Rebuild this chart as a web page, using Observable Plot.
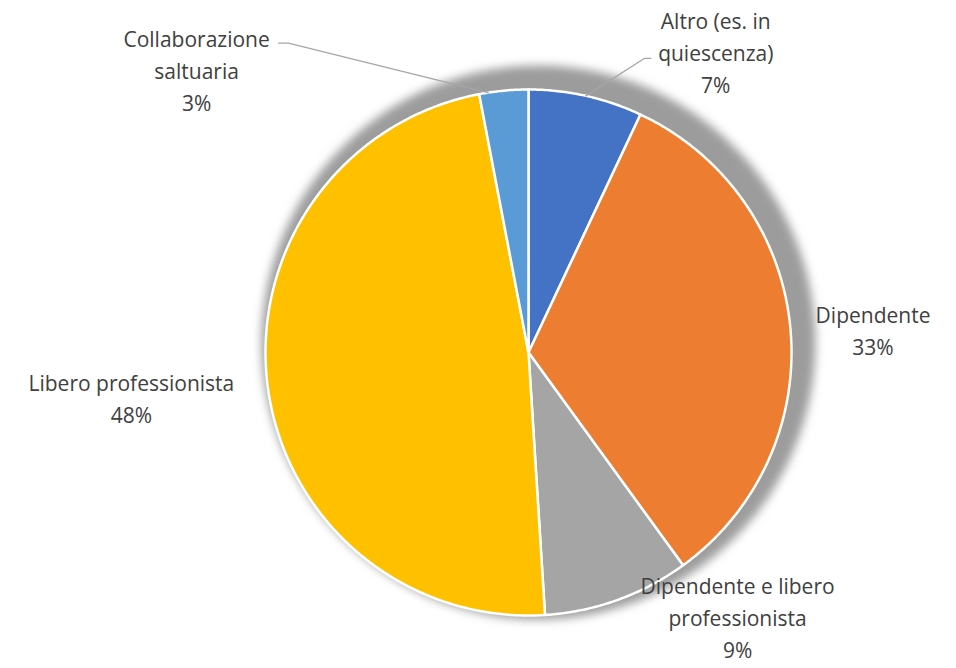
<!DOCTYPE html>
<html><head><meta charset="utf-8">
<script src="https://cdn.jsdelivr.net/npm/d3@7"></script>
<script src="https://cdn.jsdelivr.net/npm/@observablehq/plot@0.6"></script>
<style>body{margin:0;background:#fff;} #chart svg{display:block;}</style>
</head><body><div id="chart"></div>
<script>
// ---- data ----
const categories = ["Altro (es. in\nquiescenza)", "Dipendente", "Dipendente e libero\nprofessionista", "Libero professionista", "Collaborazione\nsaltuaria"];
const values = [7, 33, 9, 48, 3];
const colors = ["#4472C4", "#ED7D31", "#A5A5A5", "#FFC000", "#5B9BD5"];

// ---- layout (radius units, pie centre = 0,0) ----
const labelPos = [[0.712, 1.148], [1.31, 0.091], [0.795, -1.0], [-1.51, -0.167], [-1.262, 1.08]];
const leaderStart = {0: [[0.465, 1.118], [0.44, 1.118]], 4: [[-0.95, 1.176], [-0.913, 1.176]]};
const leaderEndShift = {0: 0, 4: -0.06};

const W = 956, H = 668, cx = 528, cy = 352, R = 263;
const xDomain = [-cx / R, (W - cx) / R];
const yDomain = [-(H - cy) / R, cy / R];

const total = d3.sum(values);
let acc = 0;
const slices = values.map((v, i) => {
  const a0 = acc / total * 2 * Math.PI;
  acc += v;
  const a1 = acc / total * 2 * Math.PI;
  return {i, name: categories[i], value: v, a0, a1, mid: (a0 + a1) / 2, color: colors[i]};
});
const pt = (a, r) => ({x: r * Math.sin(a), y: r * Math.cos(a)});
const slicePoints = s => {
  const pts = [{x: 0, y: 0}];
  const n = Math.max(2, Math.ceil((s.a1 - s.a0) / (Math.PI / 360)));
  for (let k = 0; k <= n; k++) pts.push(pt(s.a0 + (s.a1 - s.a0) * k / n, 1));
  return pts;
};

const labels = slices.map(s => ({x: labelPos[s.i][0], y: labelPos[s.i][1], text: s.name + "\n" + s.value + "%"}));
const leaders = [];
for (const key of Object.keys(leaderStart)) {
  const s = slices[+key];
  const pts = leaderStart[key].map(([x, y]) => ({x, y, k: key}));
  pts.push({...pt(s.mid + leaderEndShift[key], 1.0), k: key});
  leaders.push(...pts);
}

const marks = [
  Plot.dot([{x: 10 / R, y: 10 / R}], {x: "x", y: "y", r: R + 14, fill: "#9c9c9c", stroke: "none"}),
  ...slices.map(s => Plot.line(slicePoints(s), {x: "x", y: "y", curve: "linear-closed", fill: s.color, stroke: "white", strokeWidth: 2.5, strokeLinejoin: "round"})),
  Plot.line(leaders, {x: "x", y: "y", z: "k", stroke: "#a6a6a6", strokeWidth: 1.3}),
  Plot.text(labels, {x: "x", y: "y", text: "text", fontSize: 21, lineHeight: 1.52, fill: "#404040", textAnchor: "middle", frameAnchor: "middle"})
];

const svg = Plot.plot({
  width: W, height: H,
  margin: 0,
  x: {domain: xDomain, axis: null},
  y: {domain: yDomain, axis: null},
  style: {fontFamily: "'Open Sans', Lato, sans-serif", background: "white"},
  marks
});

const sel = d3.select(svg);
const defs = sel.insert("defs", ":first-child");
const f = defs.append("filter").attr("id", "shadowblur").attr("x", "-20%").attr("y", "-20%").attr("width", "140%").attr("height", "140%");
f.append("feGaussianBlur").attr("stdDeviation", 5);
sel.select('g[aria-label="dot"]').attr("filter", "url(#shadowblur)");

document.getElementById("chart").appendChild(svg);
</script>
</body></html>
